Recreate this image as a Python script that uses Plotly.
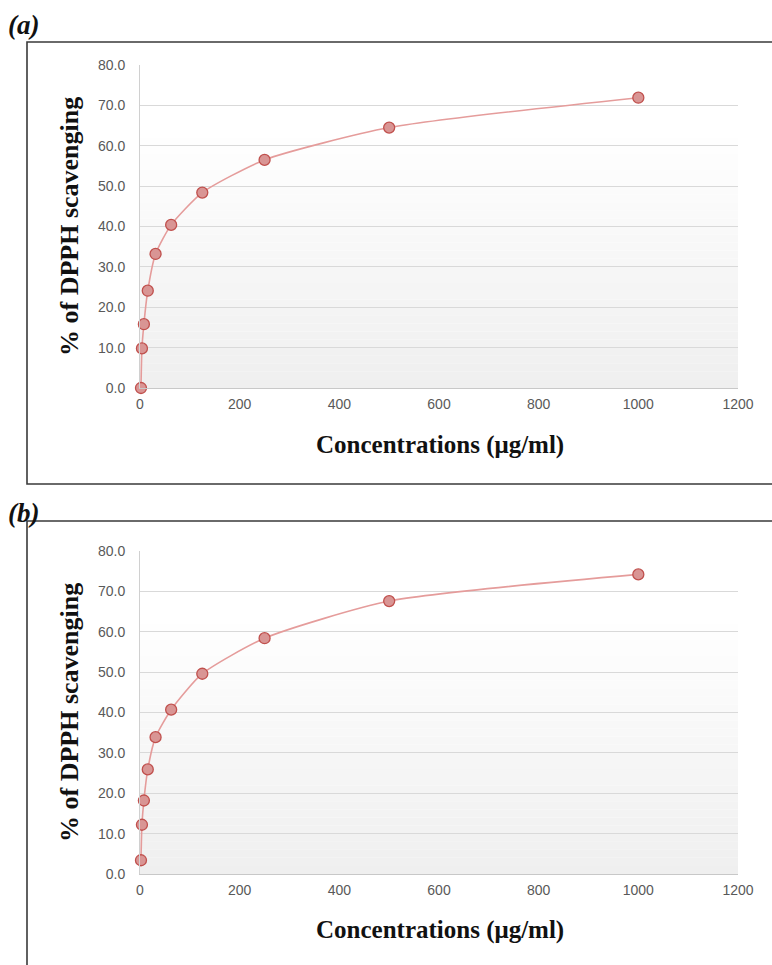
import plotly.graph_objects as go

conc = [1.95, 3.9, 7.8, 15.6, 31.25, 62.5, 125, 250, 500, 1000]
scav_a = [0.0, 9.8, 15.8, 24.1, 33.2, 40.4, 48.4, 56.5, 64.5, 71.9]
scav_b = [3.4, 12.2, 18.2, 25.9, 33.9, 40.7, 49.6, 58.4, 67.6, 74.2]
x_ticks = [0, 200, 400, 600, 800, 1000, 1200]
y_ticks = [0, 10, 20, 30, 40, 50, 60, 70, 80]
panel_labels = ["(a)", "(b)"]
x_title = "Concentrations (μg/ml)"
y_title = "% of DPPH scavenging"

W, H = 772, 965
def px(v):
    return v / W
def py(v):
    return 1 - v / H

x_dom = [px(140), px(738)]
y_doms = [[py(388), py(65)], [py(874), py(551)]]

line_col = "#e59c9b"
mk_fill = "#d99594"
mk_line = "#c0504d"

fig = go.Figure()
series = [scav_a, scav_b]
shapes = []
annotations = []
for i, ys in enumerate(series):
    xa = "x" if i == 0 else "x2"
    ya = "y" if i == 0 else "y2"
    fig.add_trace(go.Scatter(
        x=conc, y=ys, xaxis=xa, yaxis=ya, mode="lines+markers",
        line=dict(color=line_col, width=1.6, shape="spline", smoothing=0.6),
        marker=dict(size=11, color=mk_fill, line=dict(color=mk_line, width=1.3)),
        showlegend=False, cliponaxis=False,
    ))
    n = 40
    xd = "x domain" if i == 0 else "x2 domain"
    yd = "y domain" if i == 0 else "y2 domain"
    for k in range(n):
        t = (k + 0.5) / n
        g = int(round(239 + (255 - 239) * min(1.0, t / 0.8)))
        shapes.append(dict(type="rect", xref=xd, yref=yd,
                           x0=0, x1=1, y0=k / n, y1=(k + 1) / n,
                           fillcolor=f"rgb({g},{g},{g})", line=dict(width=0),
                           layer="below"))

shapes.append(dict(type="rect", xref="paper", yref="paper",
                   x0=px(27), x1=px(800), y0=py(484), y1=py(42),
                   line=dict(color="#3a3a3a", width=1.6), fillcolor="rgba(0,0,0,0)"))
shapes.append(dict(type="rect", xref="paper", yref="paper",
                   x0=px(27), x1=px(800), y0=py(1000), y1=py(521),
                   line=dict(color="#3a3a3a", width=1.6), fillcolor="rgba(0,0,0,0)"))

label_y = [25, 513]
xt_y = [445, 930]
yt_y = [227, 713]
for i in range(2):
    annotations.append(dict(text=f"<b><i>{panel_labels[i]}</i></b>", xref="paper", yref="paper",
                            x=px(6), y=py(label_y[i]), xanchor="left", yanchor="middle",
                            showarrow=False, font=dict(family="Liberation Serif", size=27, color="#111")))
    annotations.append(dict(text=f"<b>{x_title}</b>", xref="paper", yref="paper",
                            x=px(440), y=py(xt_y[i]), xanchor="center", yanchor="middle",
                            showarrow=False, font=dict(family="Liberation Serif", size=25, color="#111")))
    annotations.append(dict(text=f"<b>{y_title}</b>", xref="paper", yref="paper",
                            x=px(69), y=py(yt_y[i]), xanchor="center", yanchor="middle", textangle=-90,
                            showarrow=False, font=dict(family="Liberation Serif", size=26, color="#111")))

axis_common_x = dict(range=[0, 1200], tickvals=x_ticks, ticktext=[str(v) for v in x_ticks],
                     showgrid=False, zeroline=False, showline=True, linecolor="#c8c8c8", linewidth=1,
                     ticks="", tickfont=dict(family="Liberation Sans", size=14, color="#595959"),
                     ticklabelstandoff=3, fixedrange=True, automargin=False)
axis_common_y = dict(range=[0, 80], tickvals=y_ticks, ticktext=[f"{v:.1f}" for v in y_ticks],
                     showgrid=True, gridcolor="#d9d9d9", gridwidth=1, zeroline=False,
                     showline=True, linecolor="#d0d0d0", linewidth=1,
                     ticks="", tickfont=dict(family="Liberation Sans", size=14, color="#595959"),
                     ticklabelstandoff=11, fixedrange=True, automargin=False)

fig.update_layout(
    width=W, height=H, margin=dict(l=0, r=0, t=0, b=0, autoexpand=False),
    paper_bgcolor="white", plot_bgcolor="rgba(0,0,0,0)",
    xaxis=dict(domain=x_dom, anchor="y", **axis_common_x),
    yaxis=dict(domain=y_doms[0], anchor="x", **axis_common_y),
    xaxis2=dict(domain=x_dom, anchor="y2", **axis_common_x),
    yaxis2=dict(domain=y_doms[1], anchor="x2", **axis_common_y),
    shapes=shapes, annotations=annotations,
)

fig.write_html(
    "out.html",
    config={"displayModeBar": False},
    post_script=("document.body.style.margin='0';"
                 "document.body.style.overflow='hidden';"
                 "document.documentElement.style.overflow='hidden';"),
)
